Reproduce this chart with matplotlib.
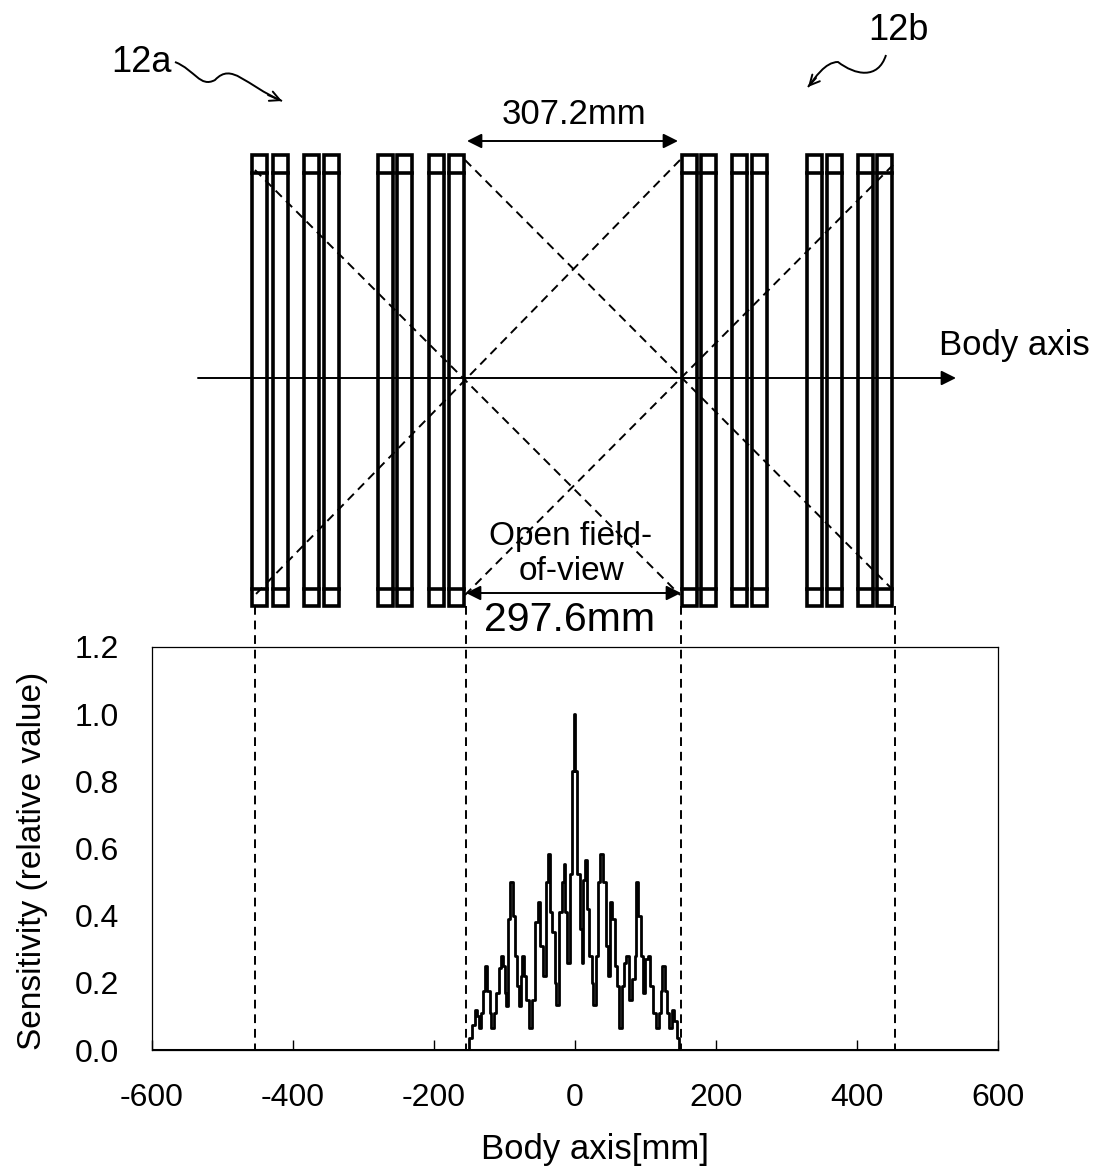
import matplotlib.pyplot as plt
from matplotlib.patches import FancyArrowPatch, PathPatch, Rectangle
from matplotlib.path import Path

plt.rcParams['font.family'] = ['Liberation Sans', 'DejaVu Sans']

# sensitivity profile (step edges in mm, level from that edge on)
axis_mm = [-152, -150, -146, -142, -139, -136.5, -133, -130, -128, -124.5, -121, -118.5, -115, -112,
           -108, -105, -102.5, -99.5, -97.5, -95, -92, -88, -85, -82, -80, -77, -75, -72, -69, -65.5,
           -60.5, -57, -53, -49.5, -45.5, -41.5, -38.5, -35.5, -32, -29, -26.5, -23, -19, -16, -14, -11,
           -7, -4, -1.5, 0.5, 3, 6.5, 9.5, 12, 14, 17, 20.5, 23.5, 26, 29.5, 32, 35.5, 40, 43.5, 46.5,
           49, 53, 56.5, 59, 62.5, 66.5, 70, 73, 77, 80.5, 84.5, 87, 89, 93, 96.5, 99.5, 103, 107, 111,
           114.5, 118.5, 121.5, 124, 127, 131, 133.5, 137, 141, 144, 148, 152]
sensitivity = [0, 0.035, 0.075, 0.12, 0.10, 0.065, 0.11, 0.175, 0.25, 0.175, 0.11, 0.065, 0.11, 0.17,
               0.245, 0.28, 0.25, 0.17, 0.13, 0.39, 0.50, 0.40, 0.28, 0.19, 0.13, 0.22, 0.28, 0.22, 0.15, 0.065,
               0.15, 0.38, 0.44, 0.31, 0.22, 0.50, 0.585, 0.41, 0.35, 0.20, 0.135, 0.41, 0.50, 0.555, 0.41, 0.26,
               0.525, 0.83, 1.0, 0.83, 0.525, 0.36, 0.26, 0.505, 0.565, 0.42, 0.28, 0.20, 0.135, 0.28, 0.50, 0.585,
               0.50, 0.31, 0.22, 0.44, 0.39, 0.25, 0.19, 0.065, 0.19, 0.26, 0.28, 0.15, 0.21, 0.28, 0.50, 0.40,
               0.28, 0.17, 0.27, 0.28, 0.19, 0.11, 0.065, 0.11, 0.175, 0.25, 0.175, 0.11, 0.065, 0.12, 0.085,
               0.035, 0, 0]
x_ticks = [-600, -400, -200, 0, 200, 400, 600]
y_ticks = [0.0, 0.2, 0.4, 0.6, 0.8, 1.0, 1.2]
x_tick_labels = ['-600', '-400', '-200', '0', '200', '400', '600']

W, H = 1095, 1171
fig = plt.figure(figsize=(W / 100, H / 100), dpi=100)

# lower graph
ax = fig.add_axes([152 / W, 1 - 1050 / H, (998 - 152) / W, (1050 - 647) / H])
ax.step(axis_mm, sensitivity, where='post', color='black', lw=2.0)
ax.axhline(0, color='black', lw=2.2)
ax.set_xlim(-600, 600)
ax.set_ylim(0, 1.2)
ax.set_xticks(x_ticks)
ax.set_xticklabels(x_tick_labels)
ax.set_yticks(y_ticks)
ax.set_yticklabels(['%.1f' % v for v in y_ticks])
ax.tick_params(axis='x', direction='in', length=7, width=1, labelsize=23, pad=24)
ax.tick_params(axis='y', length=0, labelsize=23, pad=24)
for s in ax.spines.values():
    s.set_linewidth(0.9)
ax.set_xlabel('Body axis[mm]', fontsize=25)
ax.xaxis.set_label_coords(0.5236, -0.205)
ax.set_ylabel('Sensitivity (relative value)', fontsize=24)
ax.yaxis.set_label_coords((48 - 152) / (998 - 152), 0.469)

# schematic, drawn over everything in picture pixels
over = fig.add_axes([0, 0, 1, 1])
over.set_xlim(0, W)
over.set_ylim(H, 0)
over.axis('off')
over.patch.set_alpha(0)

left_edges = [252, 273, 304, 324, 378, 397, 429, 449,
              682, 701, 732, 752, 807, 827, 858, 877]
box_w = 15
top, bottom = 155, 606
for x0 in left_edges:
    over.add_patch(Rectangle((x0, top), box_w, bottom - top, fill=False, ec='black', lw=2.6))
    over.plot([x0, x0 + box_w], [top + 18, top + 18], color='black', lw=2.6)
    over.plot([x0, x0 + box_w], [bottom - 17, bottom - 17], color='black', lw=2.6)

dash = dict(color='black', lw=1.4, ls=(0, (4.5, 3)))
for x0 in [255, 466, 681, 895]:
    over.plot([x0, x0], [606, 1050], **dash)
over.plot([255, 680], [170, 595], **dash)
over.plot([465, 893], [160, 590], **dash)
over.plot([680, 255], [160, 595], **dash)
over.plot([893, 465], [165, 595], **dash)


def arrow(p0, p1, style='-|>', lw=1.4, scale=22):
    over.add_patch(FancyArrowPatch(p0, p1, arrowstyle=style, mutation_scale=scale, color='black',
                                   lw=lw, shrinkA=0, shrinkB=0))


arrow((198, 378), (956, 378))
arrow((467, 141), (678, 141), style='<|-|>')
arrow((466, 593), (681, 593), style='<|-|>')

over.text(574, 114, '307.2mm', fontsize=25, ha='center', va='center')
over.text(571, 536, 'Open field-', fontsize=24, ha='center', va='center')
over.text(571, 572, 'of-view', fontsize=24, ha='center', va='center')
over.text(570, 620, '297.6mm', fontsize=29.5, ha='center', va='center')
over.text(1014, 345, 'Body axis', fontsize=25, ha='center', va='center')
over.text(141, 62, '12a', fontsize=26, ha='center', va='center')
over.text(898, 30, '12b', fontsize=26, ha='center', va='center')

# the little wavy leaders
leader_a = Path([(175, 62), (195, 70), (200, 88), (215, 80), (232, 62), (245, 85), (282, 101)],
                [Path.MOVETO] + [Path.CURVE4] * 6)
leader_b = Path([(886, 55), (878, 80), (855, 75), (838, 62), (825, 62), (815, 78), (808, 87)],
                [Path.MOVETO] + [Path.CURVE4] * 6)
for p in [leader_a, leader_b]:
    over.add_patch(PathPatch(p, fill=False, ec='black', lw=1.4))
arrow((268, 95), (282, 101), style='->', lw=1.4, scale=18)
arrow((816, 78), (808, 87), style='->', lw=1.4, scale=18)

fig.savefig('out.png', dpi=100)
